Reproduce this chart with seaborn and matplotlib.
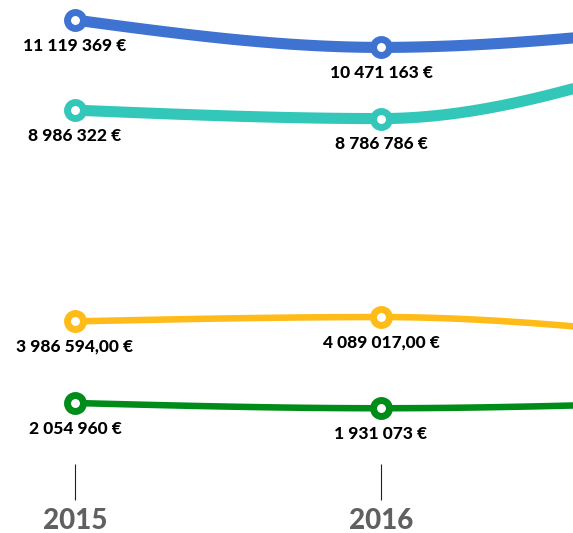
import numpy as np
import pandas as pd
import matplotlib
matplotlib.use("Agg")
import matplotlib.pyplot as plt
import seaborn as sns

# ---- data ----
years = [2015, 2016, 2017]
series_names = ["Série 1", "Série 2", "Série 3", "Série 4"]
values_blue = [11119369, 10471163, 10950000]
values_teal = [8986322, 8786786, 10300000]
values_yellow = [3986594.00, 4089017.00, 3620000.00]
values_green = [2054960, 1931073, 2070000]
decimals = [0, 0, 2, 0]
year_labels = ["2015", "2016", "2017"]

colors = ["#3f73d2", "#32c7b9", "#ffbb17", "#008c19"]
line_widths = [8.0, 8.0, 4.7, 4.7]

all_values = [values_blue, values_teal, values_yellow, values_green]

sns.set_theme(style="white")
plt.rcParams["font.family"] = ["Lato", "DejaVu Sans"]

W, H, DPI = 573, 533, 100
fig = plt.figure(figsize=(W / DPI, H / DPI), dpi=DPI)
ax_bottom_px = 464
ax = fig.add_axes([0, (H - ax_bottom_px) / H, 1, ax_bottom_px / H])

# pixel mapping
x0_px, px_per_year = 75, 306
xlim = (2015 - x0_px / px_per_year, 2015 + (W - x0_px) / px_per_year)
v_per_px = (11119369 - 2054960) / (403 - 20)
top_v = 11119369 + 20 * v_per_px
bot_v = 11119369 - (ax_bottom_px - 20) * v_per_px


def monotone_x(x, y, n=60):
    x = np.asarray(x, float)
    y = np.asarray(y, float)
    h = np.diff(x)
    s = np.diff(y) / h
    t = np.zeros_like(y)
    sgn = lambda v: -1.0 if v < 0 else 1.0
    for i in range(1, len(x) - 1):
        p = (s[i - 1] * h[i] + s[i] * h[i - 1]) / (h[i - 1] + h[i])
        t[i] = (sgn(s[i - 1]) + sgn(s[i])) * min(abs(s[i - 1]), abs(s[i]), 0.5 * abs(p))
    t[0] = (3 * s[0] - t[1]) / 2
    t[-1] = (3 * s[-1] - t[-2]) / 2
    xs, ys = [], []
    for i in range(len(x) - 1):
        u = np.linspace(0, 1, n)
        h00 = 2 * u**3 - 3 * u**2 + 1
        h10 = u**3 - 2 * u**2 + u
        h01 = -2 * u**3 + 3 * u**2
        h11 = u**3 - u**2
        yy = h00 * y[i] + h10 * h[i] * t[i] + h01 * y[i + 1] + h11 * h[i] * t[i + 1]
        xx = x[i] + u * h[i]
        xs.append(xx if i == 0 else xx[1:])
        ys.append(yy if i == 0 else yy[1:])
    return np.concatenate(xs), np.concatenate(ys)


def fmt(v, d):
    s = f"{v:,.{d}f}"
    s = s.replace(",", " ").replace(".", ",")
    return s + " €"


for name, vals, col, lw, dec in zip(series_names, all_values, colors, line_widths, decimals):
    xs, ys = monotone_x(years, vals)
    df = pd.DataFrame({"x": xs, "y": ys})
    sns.lineplot(data=df, x="x", y="y", sort=False, color=col, linewidth=lw,
                 ax=ax, solid_capstyle="butt", zorder=2)
    pts = pd.DataFrame({"x": years, "y": vals})
    sns.scatterplot(data=pts, x="x", y="y", s=132, color="white", edgecolor=col,
                    linewidth=5.0, ax=ax, zorder=3)
    for xv, yv in zip(years, vals):
        if xv > xlim[1]:
            continue
        ax.annotate(fmt(yv, dec), xy=(xv, yv), xytext=(0, -18.4), textcoords="offset points",
                    ha="center", va="center", fontsize=12.5, fontweight="black",
                    color="#000000", zorder=4)

ax.set_xlim(*xlim)
ax.set_ylim(bot_v, top_v)
ax.set_xticks([y for y in years if y <= xlim[1]])
ax.set_xticklabels([l for y, l in zip(years, year_labels) if y <= xlim[1]],
                   fontsize=20, fontweight="black", color="#606060")
ax.tick_params(axis="x", direction="out", length=25.9, width=0.8, color="#222222",
               pad=6, bottom=True)
ax.set_yticks([])
ax.set_xlabel("")
ax.set_ylabel("")
for sp in ax.spines.values():
    sp.set_visible(False)
ax.set_facecolor("white")
fig.patch.set_facecolor("white")

fig.savefig("out.png", dpi=DPI, facecolor="white")
